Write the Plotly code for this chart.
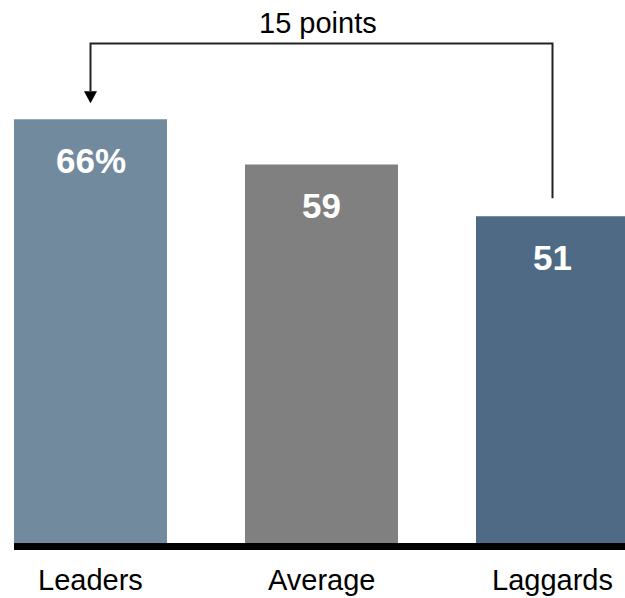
import plotly.graph_objects as go

categories = ["Leaders", "Average", "Laggards"]
values = [66, 59, 51]
label_suffix = ["%", "", ""]
colors = ["#728a9e", "#808080", "#4f6a84"]

FONT = "Liberation Sans, Arial, sans-serif"
PX_PER_UNIT = 6.475
ZERO_PX = 546.5
H = 598
W = 625
SPACING = 231.0
C0 = 90.5
BAR_W = 153 / SPACING

x_idx = list(range(len(categories)))

fig = go.Figure()
fig.add_trace(go.Bar(
    x=x_idx, y=values, marker=dict(color=colors, line=dict(width=0)),
    width=BAR_W, hoverinfo="skip"))

bottom_px = 558
y_lo = -(bottom_px - ZERO_PX) / PX_PER_UNIT
y_hi = ZERO_PX / PX_PER_UNIT

def px_to_y(p):
    return (ZERO_PX - p) / PX_PER_UNIT

# baseline
fig.add_shape(type="line", xref="x", yref="y", x0=-BAR_W / 2, x1=2.6, y0=0, y1=0,
              line=dict(color="black", width=7))

# value labels
for i, (v, s) in enumerate(zip(values, label_suffix)):
    fig.add_annotation(x=i, y=v, xref="x", yref="y", text=f"<b>{v}{s}</b>",
                       showarrow=False, yshift=-41.5, yanchor="middle",
                       font=dict(family=FONT, size=35, color="white"))
    fig.add_annotation(x=i, y=0, xref="x", yref="y", text=categories[i],
                       showarrow=False, yshift=-33.5, yanchor="middle",
                       font=dict(family=FONT, size=29, color="black"))

# bracket arrow from Laggards to Leaders
hi = max(values)
lo = min(values)
i_hi = values.index(hi)
i_lo = values.index(lo)
y_top = px_to_y(43.5)
y_start = lo + 18 / PX_PER_UNIT
y_tip = hi + 16 / PX_PER_UNIT
head_h = 12 / PX_PER_UNIT
head_w = 6.5 / SPACING
fig.add_shape(type="path", xref="x", yref="y",
              path=f"M {i_lo},{y_start} L {i_lo},{y_top} L {i_hi},{y_top} L {i_hi},{y_tip + head_h}",
              line=dict(color="#222222", width=2))
fig.add_shape(type="path", xref="x", yref="y",
              path=f"M {i_hi - head_w},{y_tip + head_h} L {i_hi + head_w},{y_tip + head_h} L {i_hi},{y_tip} Z",
              line=dict(color="black", width=0), fillcolor="black")
fig.add_annotation(x=(i_hi + i_lo) / 2, y=y_top, xref="x", yref="y",
                   text=f"{hi - lo} points", showarrow=False, yshift=21,
                   yanchor="middle", xshift=-4,
                   font=dict(family=FONT, size=29, color="black"))

fig.update_layout(
    width=W, height=H, margin=dict(l=0, r=0, t=0, b=H - bottom_px),
    plot_bgcolor="white", paper_bgcolor="white", showlegend=False,
    xaxis=dict(range=[-C0 / SPACING, (W - C0) / SPACING], showticklabels=False,
               showgrid=False, zeroline=False, showline=False, ticks=""),
    yaxis=dict(range=[y_lo, y_hi], showticklabels=False, showgrid=False,
               zeroline=False, showline=False, ticks=""),
)
fig.write_html("out.html")
